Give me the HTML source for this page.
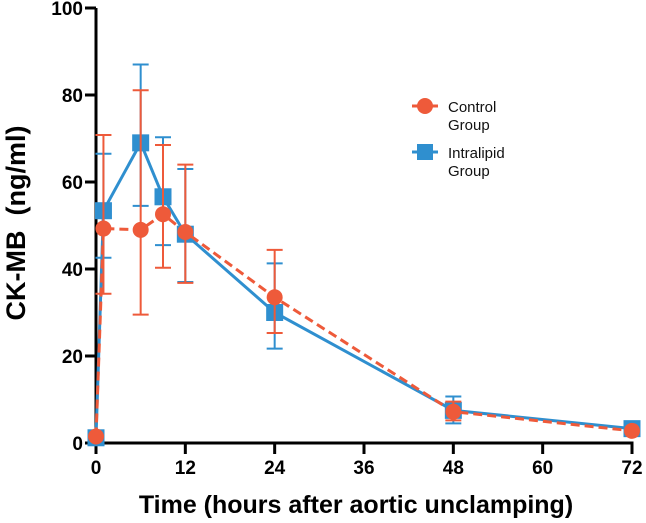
<!DOCTYPE html>
<html><head><meta charset="utf-8"><style>
html,body{margin:0;padding:0;background:#fff;}
svg{display:block;font-family:"Liberation Sans",Arial,sans-serif;}
</style></head><body>
<svg id="chart" width="646" height="523" viewBox="0 0 646 523" xmlns="http://www.w3.org/2000/svg">
<g id="axes"></g>
<g id="series"></g>
<g id="legend">
  <g>
    <line x1="412" y1="106" x2="438" y2="106" stroke="#ee5a3a" stroke-width="3"/>
    <circle cx="425" cy="106" r="8" fill="#ee5a3a"/>
    <text x="448" y="112" font-size="15" fill="#111">Control</text>
    <text x="448" y="130" font-size="15" fill="#111">Group</text>
  </g>
  <g>
    <line x1="412" y1="152" x2="438" y2="152" stroke="#2f8fcf" stroke-width="3"/>
    <rect x="417" y="144" width="16" height="16" fill="#2f8fcf"/>
    <text x="448" y="158" font-size="15" fill="#111">Intralipid</text>
    <text x="448" y="176" font-size="15" fill="#111">Group</text>
  </g>
</g>
<text x="356" y="513" font-size="25" font-weight="bold" text-anchor="middle" fill="#000">Time (hours after aortic unclamping)</text>
<text transform="translate(25,223) rotate(-90)" font-size="27" font-weight="bold" text-anchor="middle" fill="#000" xml:space="preserve">CK-MB  (ng/ml)</text>
</svg>
<script>
const times = [0, 1, 6, 9, 12, 24, 48, 72];
const controlMean = [1.5, 49.3, 49, 52.6, 48.5, 33.5, 7.2, 2.8];
const controlLow  = [1.5, 34.3, 29.5, 40.3, 36.8, 25.3, 5.2, 2.8];
const controlHigh = [1.5, 70.8, 81.1, 68.5, 64.0, 44.4, 9.5, 2.8];
const lipidMean = [1.2, 53.4, 69, 56.6, 48, 30, 7.5, 3.3];
const lipidLow  = [1.2, 42.6, 54.5, 45.5, 37, 21.7, 4.5, 3.3];
const lipidHigh = [1.2, 66.5, 87, 70.3, 63, 41.3, 10.7, 3.3];
const xTicks = [0, 12, 24, 36, 48, 60, 72];
const yTicks = [0, 20, 40, 60, 80, 100];

const NS = "http://www.w3.org/2000/svg";
const X0 = 96, X1 = 632, Y0 = 443, Y1 = 8;
function xs(v){ return X0 + (v/72)*(X1-X0); }
function ys(v){ return Y0 - (v/100)*(Y0-Y1); }
function mk(tag, attrs, parent){
  const e = document.createElementNS(NS, tag);
  for (const k in attrs) e.setAttribute(k, attrs[k]);
  parent.appendChild(e); return e;
}
const axes = document.getElementById('axes');
const series = document.getElementById('series');

let yl = mk('line',{x1:X0,y1:Y0+1.5,x2:X0,y2:Y1,stroke:'#000','stroke-width':3},axes);


let xl = mk('line',{x1:X0-1.5,y1:Y0,x2:X1+1.5,y2:Y0,stroke:'#000','stroke-width':3},axes);



yTicks.forEach(t=>{
  const y = ys(t);
  const tk = mk('line',{x1:X0-11,y1:y,x2:X0,y2:y,stroke:'#000','stroke-width':3},axes);
  
  
  const tx = mk('text',{x:X0-13,y:y+7,'font-size':19,'font-weight':'bold','text-anchor':'end',fill:'#000'},axes);
  tx.textContent = t;
  
  
});
xTicks.forEach(t=>{
  const x = xs(t);
  const tk = mk('line',{x1:x,y1:Y0,x2:x,y2:Y0+11,stroke:'#000','stroke-width':3},axes);
  
  
  const tx = mk('text',{x:x,y:Y0+31,'font-size':19,'font-weight':'bold','text-anchor':'middle',fill:'#000'},axes);
  tx.textContent = t;
  
  
});

function drawSeries(name, mean, lo, hi, color, dashed, shape){
  const g = mk('g',{},series);
  
  
  for (let i=0;i<times.length;i++){
    if (hi[i] === lo[i]) continue;
    const x = xs(times[i]);
    const eb = mk('path',{d:`M${x},${ys(lo[i])}V${ys(hi[i])}M${x-8},${ys(lo[i])}H${x+8}M${x-8},${ys(hi[i])}H${x+8}`,stroke:color,'stroke-width':2,fill:'none'},g);
    
    
  }
  const pts = times.map((t,i)=>xs(t)+','+ys(mean[i])).join(' ');
  const pl = mk('polyline',{points:pts,fill:'none',stroke:color,'stroke-width':3,'stroke-dasharray':dashed?'9,5':'none'},g);
  
  
  for (let i=0;i<times.length;i++){
    const x = xs(times[i]), y = ys(mean[i]);
    let m;
    if (shape==='circle') m = mk('circle',{cx:x,cy:y,r:8,fill:color},g);
    else m = mk('rect',{x:x-8.5,y:y-8.5,width:17,height:17,fill:color},g);
    
    
  }
}
drawSeries('intralipid', lipidMean, lipidLow, lipidHigh, '#2f8fcf', false, 'square');
drawSeries('control', controlMean, controlLow, controlHigh, '#ee5a3a', true, 'circle');
</script>
</body></html>
